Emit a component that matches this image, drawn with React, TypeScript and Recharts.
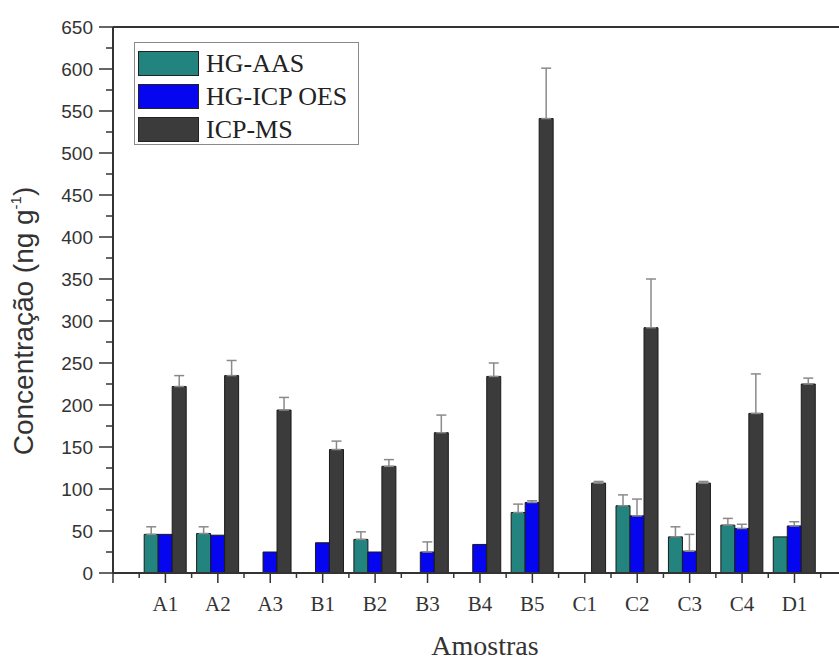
import {
  BarChart,
  Bar,
  XAxis,
  YAxis,
  ErrorBar,
  Legend,
  ReferenceLine,
} from "recharts";

const categories = ["A1", "A2", "A3", "B1", "B2", "B3", "B4", "B5", "C1", "C2", "C3", "C4", "D1"];

// HG-AAS
const hgAas = [46, 47, null, null, 40, null, null, 72, null, 80, 43, 57, 43];
const hgAasErr = [9, 8, null, null, 9, null, null, 10, null, 13, 12, 8, null];
// HG-ICP OES
const hgIcpOes = [46, 45, 25, 36, 25, 25, 34, 84, null, 68, 26, 53, 56];
const hgIcpOesErr = [null, null, null, null, null, 12, null, 2, null, 20, 20, 5, 5];
// ICP-MS
const icpMs = [222, 235, 194, 147, 127, 167, 234, 541, 107, 292, 107, 190, 225];
const icpMsErr = [13, 18, 15, 10, 8, 21, 16, 60, 2, 58, 2, 47, 7];

const yMajorTicks = [0, 50, 100, 150, 200, 250, 300, 350, 400, 450, 500, 550, 600, 650];
const yTicks = yMajorTicks.flatMap((v) => (v < 650 ? [v, v + 25] : [v]));

const data = categories.map((name, i) => ({
  name,
  aas: hgAas[i],
  aasErr: hgAasErr[i],
  oes: hgIcpOes[i],
  oesErr: hgIcpOesErr[i],
  ms: icpMs[i],
  msErr: icpMsErr[i],
}));

// only the upper half of each error bar shows, as in the original figure
const upper = (key: string) => (d: any) => (d[key] == null ? null : [0, d[key]]);

const W = 839;
const H = 660;
const Y_AXIS_W = 113;
const PAD_L = 26.2;
const PAD_R = 18.3;
const BAND = (W - Y_AXIS_W - PAD_L - PAD_R) / categories.length;
const AXIS = "#333";

function XTick({ x, y, payload, index }: any) {
  const last = index === categories.length - 1;
  return (
    <g stroke={AXIS} strokeWidth={1.5}>
      {index === 0 && <line x1={x - BAND} y1={y} x2={x - BAND} y2={y + 10} />}
      <line x1={x - BAND / 2} y1={y} x2={x - BAND / 2} y2={y + 5} />
      <line x1={x} y1={y} x2={x} y2={y + 10} />
      {last && <line x1={x + BAND / 2} y1={y} x2={x + BAND / 2} y2={y + 5} />}
      <text
        x={x}
        y={y + 38}
        textAnchor="middle"
        stroke="none"
        fill="#333"
        fontFamily="Liberation Serif"
        fontSize={21}
      >
        {payload.value}
      </text>
    </g>
  );
}

function YTick({ x, y, payload }: any) {
  const major = payload.value % 50 === 0;
  return (
    <g>
      <line x1={x - (major ? 14 : 7)} y1={y} x2={x} y2={y} stroke={AXIS} strokeWidth={1.5} />
      {major && (
        <text
          x={x - 20}
          y={y}
          dy="0.35em"
          textAnchor="end"
          fill="#333"
          fontFamily="Liberation Sans"
          fontSize={19}
        >
          {payload.value}
        </text>
      )}
    </g>
  );
}

function LegendBox({ payload }: any) {
  return (
    <div
      style={{
        border: "1.5px solid #8a8a8a",
        background: "#fff",
        width: 225,
        height: 103,
        boxSizing: "border-box",
        padding: "4px 0 0 3px",
      }}
    >
      {(payload || []).map((p: any) => (
        <div key={p.value} style={{ display: "flex", alignItems: "center", height: 33 }}>
          <span
            style={{
              width: 61,
              height: 25,
              background: p.color,
              border: "1.5px solid #222",
              boxSizing: "border-box",
            }}
          />
          <span
            style={{
              marginLeft: 7,
              fontFamily: "Liberation Serif",
              fontSize: 26,
              lineHeight: "26px",
              color: "#222",
            }}
          >
            {p.value}
          </span>
        </div>
      ))}
    </div>
  );
}

const yLabel = () => (
  <text
    transform="translate(33,321) rotate(-90)"
    textAnchor="middle"
    fontFamily="Liberation Sans"
    fontSize={28}
    fill="#333"
  >
    Concentração (ng g
    <tspan dy={-12} fontSize={15}>
      -1
    </tspan>
    <tspan dy={12}>)</tspan>
  </text>
);

export default function App() {
  return (
    <div style={{ position: "absolute", left: 0, top: 0, background: "#fff" }}>
      <BarChart
        width={W}
        height={H}
        data={data}
        margin={{ top: 27, right: 0, bottom: 0, left: 0 }}
        barSize={14}
        barGap={0}
      >
        <XAxis
          dataKey="name"
          height={87}
          padding={{ left: PAD_L, right: PAD_R }}
          interval={0}
          tickLine={false}
          tickSize={0}
          tickMargin={0}
          tick={<XTick />}
          axisLine={{ stroke: AXIS, strokeWidth: 2 }}
          label={{
            value: "Amostras",
            position: "insideBottom",
            offset: 5,
            dx: 9,
            fontFamily: "Liberation Serif",
            fontSize: 28,
            fill: "#333",
          }}
        />
        <YAxis
          width={Y_AXIS_W}
          domain={[0, 650]}
          ticks={yTicks}
          interval={0}
          tickLine={false}
          tickSize={0}
          tickMargin={0}
          tick={<YTick />}
          axisLine={{ stroke: AXIS, strokeWidth: 2 }}
          label={yLabel}
        />
        <ReferenceLine y={650} stroke={AXIS} strokeWidth={2} />
        <Legend
          layout="vertical"
          align="center"
          verticalAlign="middle"
          content={<LegendBox />}
          wrapperStyle={{ left: 134, top: 42, width: "auto", height: "auto" }}
        />
        <Bar
          dataKey="aas"
          name="HG-AAS"
          fill="#23837e"
          stroke="#1a1a1a"
          strokeWidth={1}
          isAnimationActive={false}
        >
          <ErrorBar dataKey={upper("aasErr")} width={5} stroke="#8a8a8a" strokeWidth={1.5} direction="y" />
        </Bar>
        <Bar
          dataKey="oes"
          name="HG-ICP OES"
          fill="#0505f0"
          stroke="#1a1a1a"
          strokeWidth={1}
          isAnimationActive={false}
        >
          <ErrorBar dataKey={upper("oesErr")} width={5} stroke="#8a8a8a" strokeWidth={1.5} direction="y" />
        </Bar>
        <Bar
          dataKey="ms"
          name="ICP-MS"
          fill="#3b3b3b"
          stroke="#1a1a1a"
          strokeWidth={1}
          isAnimationActive={false}
        >
          <ErrorBar dataKey={upper("msErr")} width={5} stroke="#8a8a8a" strokeWidth={1.5} direction="y" />
        </Bar>
      </BarChart>
    </div>
  );
}
